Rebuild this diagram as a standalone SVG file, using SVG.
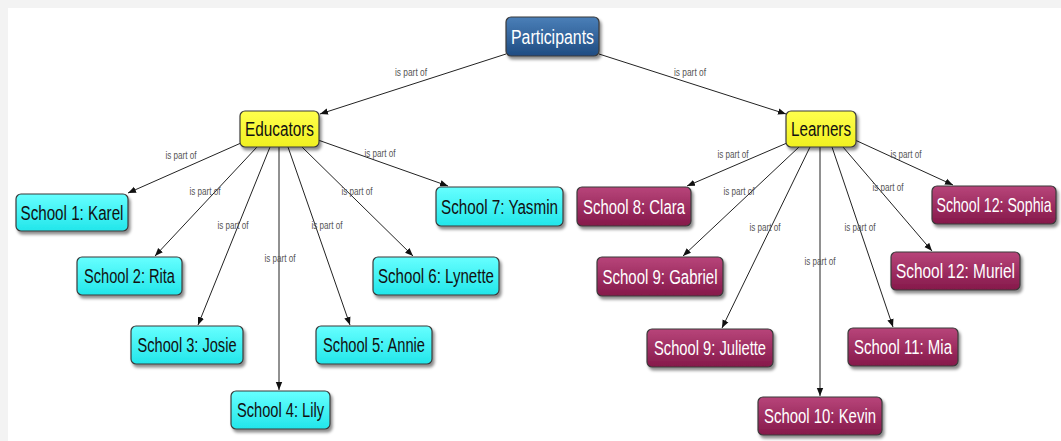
<svg xmlns="http://www.w3.org/2000/svg" width="1061" height="441" viewBox="0 0 1061 441">
<defs>
<linearGradient id="gBlue" x1="0" y1="0" x2="0" y2="1"><stop offset="0" stop-color="#4a7fb8"/><stop offset="1" stop-color="#1f4c82"/></linearGradient>
<linearGradient id="gYel" x1="0" y1="0" x2="0" y2="1"><stop offset="0" stop-color="#ffff4d"/><stop offset="1" stop-color="#f0f020"/></linearGradient>
<linearGradient id="gCyan" x1="0" y1="0" x2="0" y2="1"><stop offset="0" stop-color="#66ffff"/><stop offset="1" stop-color="#22e6ea"/></linearGradient>
<linearGradient id="gMar" x1="0" y1="0" x2="0" y2="1"><stop offset="0" stop-color="#b8457a"/><stop offset="1" stop-color="#85184a"/></linearGradient>
<filter id="sh" x="-10%" y="-20%" width="125%" height="150%"><feDropShadow dx="2" dy="3" stdDeviation="1.5" flood-color="#000" flood-opacity="0.45"/></filter>
<marker id="ah" viewBox="0 0 10 10" refX="10" refY="5" markerWidth="8" markerHeight="8" markerUnits="userSpaceOnUse" orient="auto"><path d="M0,1 L10,5 L0,9 z" fill="#111"/></marker>
</defs>
<style>
.box{stroke:#3a3a3a;stroke-width:1.2;filter:url(#sh)}
.t{font-family:"Liberation Sans Narrow","Liberation Sans",Arial,sans-serif;font-size:20px;text-anchor:middle}
.tw{fill:#ffffff}
.tb{fill:#111111}
.e{stroke:#222;stroke-width:1;fill:none;marker-end:url(#ah)}
.l{font-family:"Liberation Sans Narrow","Liberation Sans",Arial,sans-serif;font-size:11px;fill:#555;text-anchor:middle}
</style>
<rect x="0" y="0" width="1061" height="441" fill="#f3f3f3"/>
<rect x="8" y="8" width="1053" height="433" fill="#ffffff"/>
<g id="connectors">
<line class="e" x1="506" y1="54" x2="320" y2="114"/>
<line class="e" x1="599" y1="54" x2="786" y2="114"/>
<line class="e" x1="241" y1="143" x2="128" y2="193"/>
<line class="e" x1="257" y1="147" x2="155" y2="256"/>
<line class="e" x1="270" y1="147" x2="198" y2="325"/>
<line class="e" x1="279" y1="147" x2="279" y2="390"/>
<line class="e" x1="288" y1="147" x2="350" y2="325"/>
<line class="e" x1="302" y1="147" x2="413" y2="256"/>
<line class="e" x1="318" y1="140" x2="448" y2="186"/>
<line class="e" x1="787" y1="143" x2="687" y2="186"/>
<line class="e" x1="799" y1="147" x2="683" y2="256"/>
<line class="e" x1="810" y1="147" x2="722" y2="328"/>
<line class="e" x1="820" y1="147" x2="820" y2="396"/>
<line class="e" x1="832" y1="147" x2="893" y2="327"/>
<line class="e" x1="843" y1="147" x2="932" y2="251"/>
<line class="e" x1="855" y1="140" x2="953" y2="185"/>
<text class="l" x="411" y="76" textLength="32" lengthAdjust="spacingAndGlyphs">is part of</text>
<text class="l" x="690" y="76" textLength="32" lengthAdjust="spacingAndGlyphs">is part of</text>
<text class="l" x="181" y="159" textLength="31" lengthAdjust="spacingAndGlyphs">is part of</text>
<text class="l" x="205" y="195" textLength="31" lengthAdjust="spacingAndGlyphs">is part of</text>
<text class="l" x="233" y="229" textLength="31" lengthAdjust="spacingAndGlyphs">is part of</text>
<text class="l" x="280" y="262" textLength="31" lengthAdjust="spacingAndGlyphs">is part of</text>
<text class="l" x="327" y="229" textLength="31" lengthAdjust="spacingAndGlyphs">is part of</text>
<text class="l" x="357" y="195" textLength="31" lengthAdjust="spacingAndGlyphs">is part of</text>
<text class="l" x="380" y="157" textLength="31" lengthAdjust="spacingAndGlyphs">is part of</text>
<text class="l" x="733" y="158" textLength="31" lengthAdjust="spacingAndGlyphs">is part of</text>
<text class="l" x="739" y="195" textLength="31" lengthAdjust="spacingAndGlyphs">is part of</text>
<text class="l" x="765" y="231" textLength="31" lengthAdjust="spacingAndGlyphs">is part of</text>
<text class="l" x="820" y="265" textLength="31" lengthAdjust="spacingAndGlyphs">is part of</text>
<text class="l" x="860" y="231" textLength="31" lengthAdjust="spacingAndGlyphs">is part of</text>
<text class="l" x="888" y="191" textLength="31" lengthAdjust="spacingAndGlyphs">is part of</text>
<text class="l" x="906" y="158" textLength="31" lengthAdjust="spacingAndGlyphs">is part of</text>
</g>
<g id="participants"><rect class="box" x="506" y="17" width="93" height="39" rx="5" fill="url(#gBlue)"/><text class="t tw" x="552.5" y="44" textLength="83" lengthAdjust="spacingAndGlyphs">Participants</text></g>
<g id="educators"><rect class="box" x="240" y="111" width="79" height="36" rx="5" fill="url(#gYel)"/><text class="t tb" x="279.5" y="136" textLength="69" lengthAdjust="spacingAndGlyphs">Educators</text></g>
<g id="learners"><rect class="box" x="786" y="111" width="70" height="36" rx="5" fill="url(#gYel)"/><text class="t tb" x="821" y="136" textLength="60" lengthAdjust="spacingAndGlyphs">Learners</text></g>
<g id="s1"><rect class="box" x="16" y="194" width="112" height="37" rx="5" fill="url(#gCyan)"/><text class="t tb" x="72" y="220" textLength="103" lengthAdjust="spacingAndGlyphs">School 1: Karel</text></g>
<g id="s2"><rect class="box" x="77" y="257" width="105" height="38" rx="5" fill="url(#gCyan)"/><text class="t tb" x="129.5" y="283" textLength="91" lengthAdjust="spacingAndGlyphs">School 2: Rita</text></g>
<g id="s3"><rect class="box" x="131" y="326" width="112" height="38" rx="5" fill="url(#gCyan)"/><text class="t tb" x="187" y="352" textLength="99" lengthAdjust="spacingAndGlyphs">School 3: Josie</text></g>
<g id="s4"><rect class="box" x="231" y="391" width="99" height="38" rx="5" fill="url(#gCyan)"/><text class="t tb" x="280.5" y="417" textLength="87" lengthAdjust="spacingAndGlyphs">School 4: Lily</text></g>
<g id="s5"><rect class="box" x="316" y="326" width="116" height="38" rx="5" fill="url(#gCyan)"/><text class="t tb" x="374" y="352" textLength="102" lengthAdjust="spacingAndGlyphs">School 5: Annie</text></g>
<g id="s6"><rect class="box" x="373" y="257" width="126" height="38" rx="5" fill="url(#gCyan)"/><text class="t tb" x="436" y="283" textLength="116" lengthAdjust="spacingAndGlyphs">School 6: Lynette</text></g>
<g id="s7"><rect class="box" x="436" y="187" width="127" height="39" rx="5" fill="url(#gCyan)"/><text class="t tb" x="499.5" y="214" textLength="117" lengthAdjust="spacingAndGlyphs">School 7: Yasmin</text></g>
<g id="s8"><rect class="box" x="577" y="187" width="114" height="39" rx="5" fill="url(#gMar)"/><text class="t tw" x="634" y="214" textLength="102" lengthAdjust="spacingAndGlyphs">School 8: Clara</text></g>
<g id="s9g"><rect class="box" x="597" y="257" width="126" height="39" rx="5" fill="url(#gMar)"/><text class="t tw" x="660" y="284" textLength="115" lengthAdjust="spacingAndGlyphs">School 9: Gabriel</text></g>
<g id="s9j"><rect class="box" x="647" y="329" width="126" height="38" rx="5" fill="url(#gMar)"/><text class="t tw" x="710" y="355" textLength="112" lengthAdjust="spacingAndGlyphs">School 9: Juliette</text></g>
<g id="s10"><rect class="box" x="758" y="397" width="124" height="38" rx="5" fill="url(#gMar)"/><text class="t tw" x="820" y="423" textLength="112" lengthAdjust="spacingAndGlyphs">School 10: Kevin</text></g>
<g id="s11"><rect class="box" x="848" y="328" width="110" height="38" rx="5" fill="url(#gMar)"/><text class="t tw" x="903" y="354" textLength="98" lengthAdjust="spacingAndGlyphs">School 11: Mia</text></g>
<g id="s12m"><rect class="box" x="891" y="252" width="129" height="38" rx="5" fill="url(#gMar)"/><text class="t tw" x="955.5" y="278" textLength="119" lengthAdjust="spacingAndGlyphs">School 12: Muriel</text></g>
<g id="s12s"><rect class="box" x="932" y="186" width="124" height="38" rx="5" fill="url(#gMar)"/><text class="t tw" transform="translate(994,212) scale(0.71,1)" x="0" y="0">School 12: Sophia</text></g>
</svg>
